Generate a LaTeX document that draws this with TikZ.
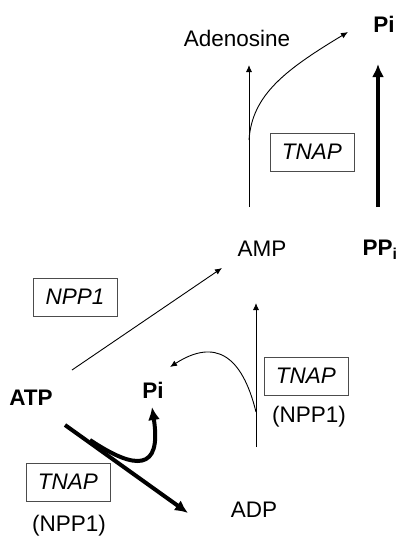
\documentclass[tikz,border=0pt]{standalone}
\usepackage{fontspec}
\setmainfont{Liberation Sans}
\usetikzlibrary{arrows.meta}
\begin{document}
\begin{tikzpicture}[x=1pt,y=-1pt,
  lbl/.style={font=\fontsize{22.5}{26}\selectfont, inner sep=0pt},
  blbl/.style={font=\fontsize{22.5}{26}\selectfont\bfseries, inner sep=0pt},
  enz/.style={draw=black!70, line width=0.9pt, font=\fontsize{22.5}{26}\selectfont\itshape,
    minimum width=84pt, minimum height=38pt, inner sep=0pt},
  thin/.style={line width=0.9pt, -{Latex[length=7pt,width=6pt]}},
  thick/.style={line width=4pt, -{Latex[length=13pt,width=12pt]}}]
\useasboundingbox (0,0) rectangle (397,536);
% labels
\node[lbl] (ado) at (237,38) {Adenosine};
\node[blbl] (pitop) at (384,24) {Pi};
\node[lbl] (amp) at (262,249) {AMP};
\node[blbl] (ppi) at (380,250) {PP$_{\mathbf{i}}$};
\node[blbl] (atp) at (31,398) {ATP};
\node[blbl] (pimid) at (153,390) {Pi};
\node[lbl] (adp) at (254,510) {ADP};
\node[lbl] (npp1r) at (309,417) {(NPP1)};
\node[lbl] (npp1b) at (69,526) {(NPP1)};
% enzyme boxes
\node[enz] (tnap1) at (312,152) {TNAP};
\node[enz] (npp1) at (75,297) {NPP1};
\node[enz] (tnap2) at (306,376) {TNAP};
\node[enz] (tnap3) at (68,482) {TNAP};
% coordinates
\coordinate (a1) at (249,207);
\coordinate (a2) at (249,65);
\coordinate (a3) at (249,140);
\coordinate (a4) at (348,32);
\coordinate (p1) at (378,207);
\coordinate (p2) at (378,64);
\coordinate (t1) at (72,370);
\coordinate (t2) at (222,268);
\coordinate (v1) at (256,447);
\coordinate (v2) at (256,303);
\coordinate (v3) at (256,412);
\coordinate (v4) at (170,367);
\coordinate (d1) at (65,425);
\coordinate (d2) at (188,513);
\coordinate (c1) at (90,440);
\coordinate (c2) at (152,407);
% arrows
\draw[thin] (a1) -- (a2);
\draw[thin] (a3) .. controls (252,95) and (285,70) .. (a4);
\draw[thick, line width=4.5pt] (p1) -- (p2);
\draw[thin] (t1) -- (t2);
\draw[thin] (v1) -- (v2);
\draw[thin] (v3) .. controls (242,355) and (215,338) .. (v4);
\draw[thick] (d1) -- (d2);
\draw[thick] (c1) .. controls (135,470) and (162,472) .. (c2);
\end{tikzpicture}
\end{document}
